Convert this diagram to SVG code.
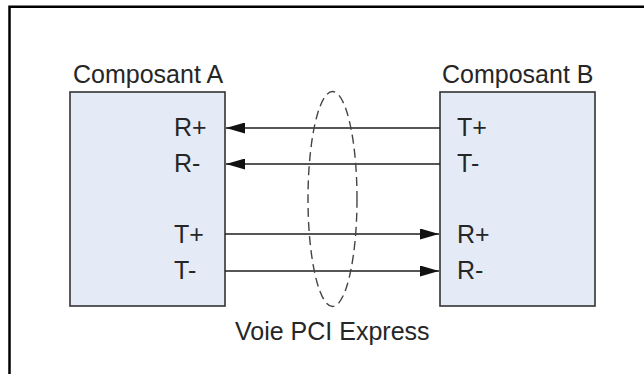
<svg xmlns="http://www.w3.org/2000/svg" width="644" height="374" viewBox="0 0 644 374">
  <style>
    .frame { fill: none; stroke: #000; stroke-width: 2.5; }
    .box { fill: #e5ebf6; stroke: #333; stroke-width: 1.6; }
    .lbl { font-family: "Liberation Sans", Arial, sans-serif; font-size: 25px; fill: #262626; }
    .wire { fill: none; stroke: #1e1e1e; stroke-width: 1.6; }
    .lane { fill: none; stroke: #444; stroke-width: 1.4; stroke-dasharray: 9 5; }
  </style>
  <defs>
    <marker id="arrow" viewBox="0 0 19 11" refX="19" refY="5.5" markerWidth="19" markerHeight="11" markerUnits="userSpaceOnUse" orient="auto">
      <path d="M0 0 L19 5.5 L0 11 Z" fill="#111"/>
    </marker>
  </defs>

  <!-- outer frame (top and left edges) -->
  <path class="frame" d="M9.5 374 V6.8 H644"/>

  <g id="composant-a">
    <text class="lbl" x="73" y="83">Composant A</text>
    <rect class="box" x="70" y="92" width="155" height="214"/>
    <text class="lbl" x="174" y="136">R+</text>
    <text class="lbl" x="174" y="172">R-</text>
    <text class="lbl" x="174" y="243">T+</text>
    <text class="lbl" x="174" y="279">T-</text>
  </g>

  <g id="composant-b">
    <text class="lbl" x="442" y="83">Composant B</text>
    <rect class="box" x="440" y="92" width="155" height="214"/>
    <text class="lbl" x="457" y="136">T+</text>
    <text class="lbl" x="457" y="172">T-</text>
    <text class="lbl" x="457" y="243">R+</text>
    <text class="lbl" x="457" y="279">R-</text>
  </g>

  <g id="connectors">
    <line class="wire" x1="440" y1="128" x2="226" y2="128" marker-end="url(#arrow)"/>
    <line class="wire" x1="440" y1="164" x2="226" y2="164" marker-end="url(#arrow)"/>
    <line class="wire" x1="225" y1="234" x2="439" y2="234" marker-end="url(#arrow)"/>
    <line class="wire" x1="225" y1="271" x2="439" y2="271" marker-end="url(#arrow)"/>
  </g>

  <g id="voie-pci-express">
    <ellipse class="lane" cx="332.5" cy="199" rx="24.5" ry="107.5"/>
    <text class="lbl" x="235" y="340">Voie PCI Express</text>
  </g>
</svg>
